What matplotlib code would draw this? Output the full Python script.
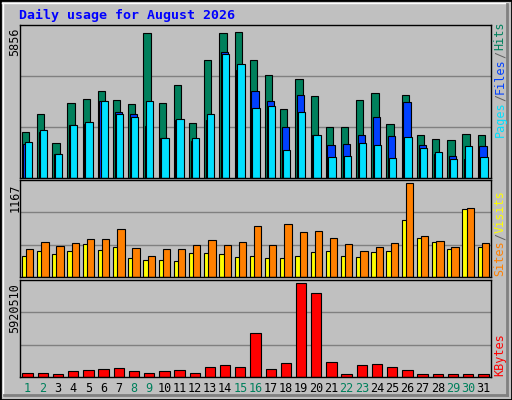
import matplotlib
matplotlib.use("Agg")
import matplotlib.pyplot as plt
from matplotlib.patches import Rectangle
from matplotlib.lines import Line2D
import numpy as np

days = list(range(1, 32))
weekend = [1, 2, 8, 9, 15, 16, 22, 23, 29, 30]
hits = [1837, 2556, 1398, 2995, 3194, 3514, 3115, 2955, 5830, 2995, 3753, 2196, 4752, 5830, 5856, 4752,
        4153, 2755, 3993, 3314, 2036, 2036, 3115, 3434, 2156, 3354, 1717, 1557, 1517, 1757, 1717]
files = [1358, 1837, 958, 2116, 2156, 3075, 2635, 2556, 2076, 1597, 2316, 1477, 2316, 5071, 4352, 3514,
         3075, 2036, 3354, 1717, 1318, 1358, 1717, 2436, 1677, 3035, 1318, 958, 878, 759, 1278]
pages = [1437, 1917, 958, 2116, 2236, 3075, 2556, 2436, 3075, 1597, 2356, 1597, 2556, 4991, 4592, 2795,
         2875, 1118, 2635, 1717, 839, 878, 1398, 1318, 799, 1637, 1198, 1038, 759, 1278, 839]
visits = [342, 431, 381, 419, 469, 469, 596, 355, 266, 342, 342, 393, 457, 393, 431, 634,
          393, 660, 558, 571, 482, 406, 317, 368, 419, 1167, 507, 444, 368, 850, 419]
sites = [266, 317, 279, 317, 406, 330, 368, 241, 216, 216, 203, 292, 292, 279, 254, 266,
         241, 241, 266, 304, 317, 266, 254, 304, 317, 710, 482, 431, 342, 837, 368]
kbytes = [281000, 281000, 216000, 346000, 411000, 475000, 540000, 346000, 281000, 346000, 411000,
          281000, 605000, 735000, 605000, 2744000, 475000, 864000, 5920510, 5272000, 929000, 216000,
          735000, 800000, 605000, 411000, 216000, 216000, 216000, 216000, 216000]

W, H = 512, 400
BG = "#C0C0C0"
fig = plt.figure(figsize=(W / 100, H / 100), dpi=100, facecolor=BG)
mono = "DejaVu Sans Mono"

def fx(px): return px / W
def fy(py): return 1 - py / H

# frame / bevel
fig.patches.append(Rectangle((0, 0), 1, 1, transform=fig.transFigure, fill=False, ec="black", lw=2))
fig.add_artist(Line2D([fx(2), fx(508)], [fy(3), fy(3)], transform=fig.transFigure, color="white", lw=1))
fig.add_artist(Line2D([fx(3), fx(3)], [fy(3), fy(396)], transform=fig.transFigure, color="white", lw=1))
fig.add_artist(Line2D([fx(4), fx(507)], [fy(395), fy(395)], transform=fig.transFigure, color="#808080", lw=2))
fig.add_artist(Line2D([fx(507), fx(507)], [fy(4), fy(395)], transform=fig.transFigure, color="#808080", lw=2))

x = np.array(days)
L, R = 20, 491

def make_ax(top, bot, ymax):
    ax = fig.add_axes([fx(L), fy(bot), fx(R) - fx(L), fy(top) - fy(bot)])
    ax.set_facecolor(BG)
    ax.set_xlim(0.5, 31.5)
    ax.set_ylim(0, ymax)
    for g in (ymax / 3, 2 * ymax / 3):
        ax.axhline(g, color="#808080", lw=1, zorder=0)
    ax.set_xticks([]); ax.set_yticks([])
    for s in ax.spines.values():
        s.set_color("black"); s.set_linewidth(1)
    return ax

ax1 = make_ax(25, 178, max(hits) * 1.05)
ax1.bar(x - 0.38, hits, width=0.48, align="edge", color="#00805C", ec="black", lw=0.8)
ax1.bar(x - 0.27, files, width=0.48, align="edge", color="#0040FF", ec="black", lw=0.8)
ax1.bar(x - 0.2, pages, width=0.48, align="edge", color="#00E0FF", ec="black", lw=0.8)

ax2 = make_ax(180, 277, max(visits) * 1.03)
ax2.bar(x - 0.38, sites, width=0.48, align="edge", color="#FFFF00", ec="black", lw=0.8)
ax2.bar(x - 0.1, visits, width=0.48, align="edge", color="#FF8000", ec="black", lw=0.8)

ax3 = make_ax(280, 377, max(kbytes) * 1.03)
ax3.bar(x - 0.34, kbytes, width=0.68, align="edge", color="#FF0000", ec="black", lw=0.8)

# title
fig.text(fx(19), fy(15), "Daily usage for August 2026", color="#0000FF", fontsize=9.5,
         fontweight="bold", family=mono, va="center", ha="left")

# left max labels
for txt, top in (("5856", 28), ("1167", 183), ("5920510", 283)):
    fig.text(fx(15), fy(top), txt, rotation=90, va="top", ha="center", fontsize=8.5, family=mono)

# day labels
for d in days:
    xd = ax3.transData.transform((d, 0))[0] / fig.dpi / fig.get_figwidth()
    fig.text(xd, fy(389), str(d), ha="center", va="center", fontsize=8.5, family=mono,
             color="#00805C" if d in weekend else "black")

# right legends (rotated, stacked upward)
def stack(parts, bottom_px):
    y = bottom_px
    for txt, col in parts:
        fig.text(fx(500), fy(y), txt, rotation=90, va="bottom", ha="center", fontsize=8.5,
                 family=mono, color=col)
        y -= len(txt) * 6.9 + 1

stack([("Pages", "#00E0FF"), ("/", "#606060"), ("Files", "#0040FF"), ("/", "#606060"), ("Hits", "#00805C")], 137)
stack([("Sites", "#FF8000"), ("/", "#606060"), ("Visits", "#FFFF00")], 276)
stack([("KBytes", "#FF0000")], 376)

fig.savefig("out.png", dpi=100, facecolor=BG)
